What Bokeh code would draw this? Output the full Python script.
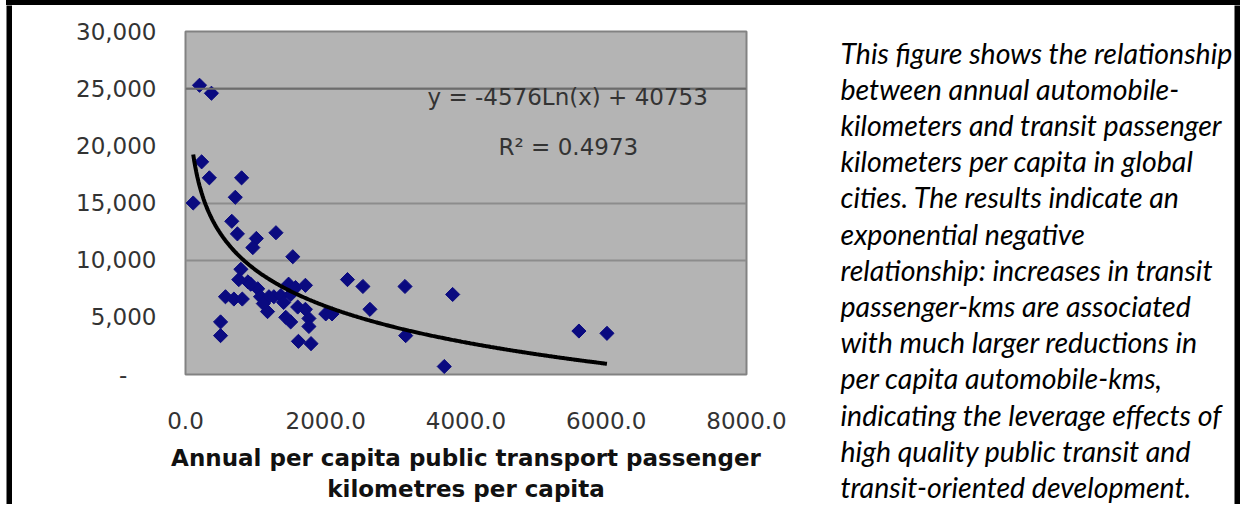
import numpy as np
from bokeh.plotting import figure
from bokeh.layouts import column, row
from bokeh.models import Range1d, FixedTicker, Label, Span, Div
from bokeh.core.properties import value
from bokeh.embed import file_html
from bokeh.resources import INLINE

# ---- data ----
transit_pkm = [200, 370, 230, 340, 800, 710, 110, 660, 740, 1010, 960, 1290, 1530,
               790, 760, 890, 570, 690, 810, 1030, 1070, 1190, 1260, 1170, 1360, 1470,
               1710, 1500, 1600, 1430, 1500, 1710, 1760, 1760, 1610, 1790, 500, 500,
               2000, 2090, 2310, 2530, 3130, 2630, 3810, 3140, 3690, 5610, 6010,
               930, 1110, 1400, 1570]
auto_km = [25300, 24600, 18600, 17200, 17200, 15500, 15000, 13400, 12300, 11900, 11100,
           12400, 10300, 9200, 8300, 8100, 6800, 6600, 6600, 7500, 6800, 6800, 6800,
           5500, 6900, 7900, 7800, 7000, 5900, 5000, 4600, 5700, 4900, 4200, 2900, 2700,
           4600, 3400, 5300, 5300, 8300, 7700, 7700, 5700, 7000, 3400, 700, 3800, 3600,
           7900, 6200, 6300, 7600]

trend_slope = -4576
trend_intercept = 40753
equation_text = "y = -4576Ln(x) + 40753"
r2_text = "R\u00b2 = 0.4973"

x_ticks = [0, 2000, 4000, 6000, 8000]
x_tick_labels = ["0.0", "2000.0", "4000.0", "6000.0", "8000.0"]
y_ticks = [0, 5000, 10000, 15000, 20000, 25000, 30000]
y_tick_labels = ["-\u00a0\u00a0\u00a0\u00a0", "5,000", "10,000", "15,000", "20,000", "25,000", "30,000"]
grid_values = [10000, 15000, 25000]

x_title = "Annual per capita public transport passenger\nkilometres per capita"
side_text = [
    "This figure shows the relationship",
    "between annual automobile-",
    "kilometers and transit passenger",
    "kilometers per capita in global",
    "cities. The results indicate an",
    "exponential negative",
    "relationship: increases in transit",
    "passenger-kms are associated",
    "with much larger reductions in",
    "per capita automobile-kms,",
    "indicating the leverage effects of",
    "high quality public transit and",
    "transit-oriented development.",
]

ROW_H = 499


def bar(w, h, pad_left=0):
    f = figure(width=w, height=h, output_backend="svg", toolbar_location=None,
               x_axis_location=None, y_axis_location=None, min_border=0,
               frame_align=False)
    f.min_border_left = pad_left
    f.background_fill_color = "black"
    f.border_fill_color = "white" if pad_left else "black"
    f.outline_line_color = None
    f.grid.visible = False
    return f


# ---- chart ----
p = figure(width=808, height=ROW_H, output_backend="svg", toolbar_location=None,
           x_range=Range1d(0, 8000), y_range=Range1d(0, 30000),
           min_border_left=173, min_border_right=74,
           min_border_top=26, min_border_bottom=128, frame_align=False)
p.background_fill_color = "#b4b4b4"
p.border_fill_color = "white"
p.outline_line_color = "#828282"
p.outline_line_width = 2

p.xgrid.visible = False
p.ygrid.ticker = FixedTicker(ticks=grid_values)
p.ygrid.grid_line_color = "#8c8c8c"
p.ygrid.grid_line_width = 2
p.add_layout(Span(location=grid_values[-1], dimension="width",
                  line_color="#6c6c6c", line_width=2))

xa = p.xaxis[0]
xa.ticker = FixedTicker(ticks=x_ticks)
xa.major_label_overrides = dict(zip(x_ticks, x_tick_labels))
xa.axis_line_color = None
xa.major_tick_line_color = None
xa.minor_tick_line_color = None
xa.major_label_standoff = 31
xa.major_label_text_font = "DejaVu Sans"
xa.major_label_text_font_size = "23px"
xa.major_label_text_color = "#333333"
xa.axis_label = x_title
xa.axis_label_text_font = "DejaVu Sans"
xa.axis_label_text_font_style = "bold"
xa.axis_label_text_font_size = "23px"
xa.axis_label_text_color = "#111111"
xa.axis_label_standoff = 13
xa.axis_label_text_line_height = 1.2

ya = p.yaxis[0]
ya.ticker = FixedTicker(ticks=y_ticks)
ya.major_label_overrides = dict(zip(y_ticks, y_tick_labels))
ya.axis_line_color = None
ya.major_tick_line_color = None
ya.minor_tick_line_color = None
ya.major_label_standoff = 23
ya.major_label_text_font = "DejaVu Sans"
ya.major_label_text_font_size = "23px"
ya.major_label_text_color = "#333333"

p.scatter(transit_pkm, auto_km, marker="square", angle=np.pi / 4, size=10,
          fill_color="#0a0a80", line_color="#0a0a80")

tx = np.linspace(min(transit_pkm), max(transit_pkm), 400)
ty = trend_slope * np.log(tx) + trend_intercept
p.line(tx, ty, line_color="black", line_width=4)

p.add_layout(Label(x=5450, y=24260, text=equation_text, text_align="center",
                   text_baseline="middle", text_font="DejaVu Sans",
                   text_font_size="23px", text_color="#333333"))
p.add_layout(Label(x=5460, y=19900, text=r2_text, text_align="center",
                   text_baseline="middle", text_font="DejaVu Sans",
                   text_font_size="23px", text_color="#333333"))

# ---- side text panel ----
TW = 414
t = figure(width=TW, height=ROW_H, output_backend="svg", toolbar_location=None,
           x_range=Range1d(0, TW), y_range=Range1d(ROW_H, 0),
           x_axis_location=None, y_axis_location=None, min_border=0,
           frame_align=False)
t.outline_line_color = None
t.grid.visible = False
t.background_fill_color = "white"
t.border_fill_color = "white"
t.text(x=[20] * len(side_text), y=[47 + 36.2 * i for i in range(len(side_text))],
       text=side_text, text_font=value("Lato"), text_font_style="italic",
       text_font_size="28.5px", text_color="black",
       text_align="left", text_baseline="middle")

top_bar = Div(text="", width=1234, height=5, margin=(0, 0, 0, 6),
              styles={"background-color": "black"})

layout = column(
    top_bar,
    row(bar(12, ROW_H, pad_left=6), p, t, bar(6, ROW_H)),
)

open("out.html", "w").write(file_html(layout, INLINE))
